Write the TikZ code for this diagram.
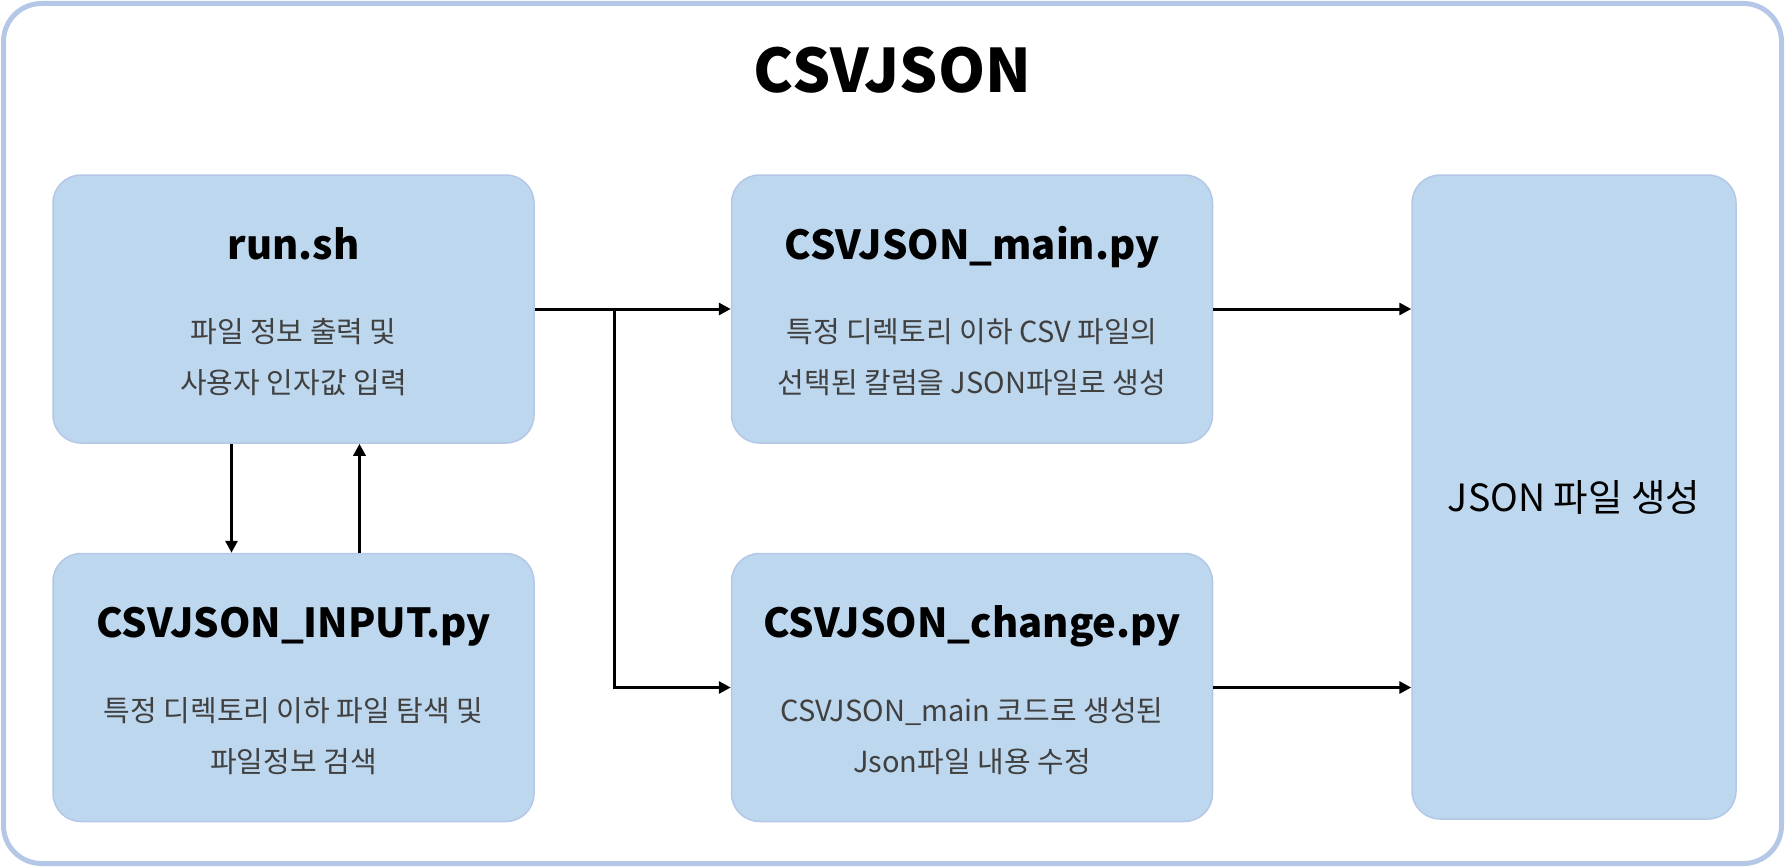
\documentclass[tikz,border=0pt]{standalone}
\usepackage{fontspec}
\setmainfont{Noto Sans CJK KR}
\usepackage{xcolor}
\usetikzlibrary{arrows.meta,positioning,calc}

\definecolor{boxfill}{HTML}{BDD7EE}
\definecolor{boxline}{HTML}{B4C7E7}
\definecolor{bodygray}{HTML}{404040}

\begin{document}
\begin{tikzpicture}[x=1pt, y=-1pt,
	modbox/.style={rectangle, rounded corners=28pt, draw=boxline, line width=1.5pt, fill=boxfill, minimum width=481pt, minimum height=268pt, inner sep=0pt},
	modname/.style={font=\bfseries\fontsize{40}{44}\selectfont, anchor=base, inner sep=0pt},
	moddesc/.style={font=\fontsize{29}{51}\selectfont, text=bodygray, align=center, inner sep=0pt},
	flow/.style={line width=3pt, -{Triangle[length=12pt, width=12pt]}}]
	\useasboundingbox (0,0) rectangle (1785,867);
	\draw[boxline, line width=5pt, rounded corners=38pt] (3.5,3.5) rectangle (1781.5,863.5);
	\node[font=\bfseries\fontsize{60}{64}\selectfont, inner sep=0pt] (title) at (892.5,70) {CSVJSON};
	
	\node[modbox] (run) at (293.5,309) {};
	\node[modbox, below=109pt of run] (input) {};
	\node[modbox, right=196pt of run] (main) {};
	\node[modbox, below=109pt of main] (change) {};
	\node[modbox, anchor=north west, minimum width=324pt, minimum height=644pt, font=\fontsize{37.5}{42}\selectfont] (json) at ([xshift=198pt]main.north east) {JSON 파일 생성};
	
	\node[modname] (run-name) at ([yshift=50pt]run.center) {run.sh};
	\node[moddesc] (run-desc) at ([yshift=-48.5pt]run.center) {파일 정보 출력 및\\사용자 인자값 입력};
	\node[modname] (input-name) at ([yshift=50pt]input.center) {CSVJSON\_INPUT.py};
	\node[moddesc] (input-desc) at ([yshift=-48.5pt]input.center) {특정 디렉토리 이하 파일 탐색 및\\파일정보 검색};
	\node[modname] (main-name) at ([yshift=50pt]main.center) {CSVJSON\_main.py};
	\node[moddesc] (main-desc) at ([yshift=-48.5pt]main.center) {특정 디렉토리 이하 CSV 파일의\\선택된 칼럼을 JSON파일로 생성};
	\node[modname] (change-name) at ([yshift=50pt]change.center) {CSVJSON\_change.py};
	\node[moddesc] (change-desc) at ([yshift=-48.5pt]change.center) {CSVJSON\_main 코드로 생성된\\Json파일 내용 수정};
	
	\coordinate (split) at ([xshift=80pt]run.east);
	\draw[flow] (run.east) -- (main.west);
	\draw[flow] (split) |- (change.west);
	\draw[flow] (main.east) -- (main.east -| json.west);
	\draw[flow] (change.east) -- (change.east -| json.west);
	\draw[flow] ([xshift=-62pt]run.south) -- ([xshift=-62pt]input.north);
	\draw[flow] ([xshift=66pt]input.north) -- ([xshift=66pt]run.south);
\end{tikzpicture}
\end{document}
